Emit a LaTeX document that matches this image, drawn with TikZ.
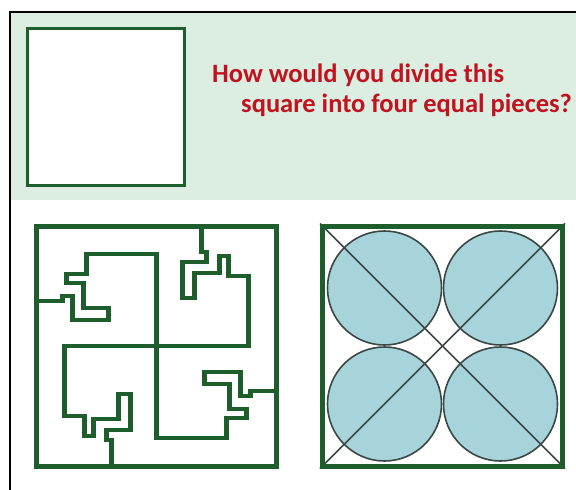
\documentclass[tikz,border=0pt]{standalone}
\usepackage{fontspec}
\setmainfont{Carlito}
\usetikzlibrary{positioning}
\definecolor{band}{HTML}{DCEEE1}
\definecolor{pine}{HTML}{1D5E2C}
\definecolor{ask}{HTML}{C1121F}
\definecolor{disc}{HTML}{A7D4DA}
\definecolor{rim}{HTML}{3A4744}
\tikzset{
  sq/.style={draw=pine, line width=5pt, inner sep=0pt, minimum size=240pt},
  cut/.style={draw=pine, line width=4.6pt, line join=miter},
  disk/.style={circle, draw=rim, fill=disc, line width=1.6pt, minimum size=114pt, inner sep=0pt},
  diag/.style={draw=rim, line width=1.5pt},
  ask/.style={text=ask, font=\bfseries\fontsize{26.5}{30}\selectfont, inner sep=0pt, anchor=base west},
}
% one arm of the cut, from the border to the centre
\newcommand{\hookpath}{(-120,-45) -- (-94,-45) -- (-94,-50) -- (-84,-50) -- (-84,-26) -- (-48,-26) -- (-48,-38) -- (-73,-38) -- (-73,-63) -- (-90,-63) -- (-90,-72) -- (-70,-72) -- (-70,-92) -- (0,-92) -- (0,0)}
\begin{document}
\begin{tikzpicture}[x=1pt,y=-1pt]
  \useasboundingbox (0,0) rectangle (576,490);
  \fill[band] (10,12) rectangle (576,200);
  \draw[line width=2pt] (576,12) -- (10,12) -- (10,490);

  \node[draw=pine, line width=3pt, fill=white, minimum width=157pt, minimum height=157pt, inner sep=0pt] (blank) at (106,107) {};
  \node[ask] (ask1) at (212,82) {How would you divide this};
  \node[ask] (ask2) at (241,112) {square into four equal pieces?};

  % jigsaw answer
  \node[sq, fill=white] (cutsq) at (156.5,346) {};
  \foreach \r in {0,-90,180,90}
    \draw[cut, shift={(cutsq.center)}, rotate=\r] \hookpath;

  % circles answer
  \node[sq, fill=white] (bowl) at (442.5,346) {};
  \node[disk] (d1) at ([shift={(-58,-58)}]bowl.center) {};
  \node[disk] (d2) at ([shift={(58,-58)}]bowl.center) {};
  \node[disk] (d3) at ([shift={(-58,58)}]bowl.center) {};
  \node[disk] (d4) at ([shift={(58,58)}]bowl.center) {};
  \draw[diag] (bowl.north west) -- (bowl.south east);
  \draw[diag] (bowl.north east) -- (bowl.south west);
  \node[sq] (rim) at (bowl.center) {};
\end{tikzpicture}
\end{document}
